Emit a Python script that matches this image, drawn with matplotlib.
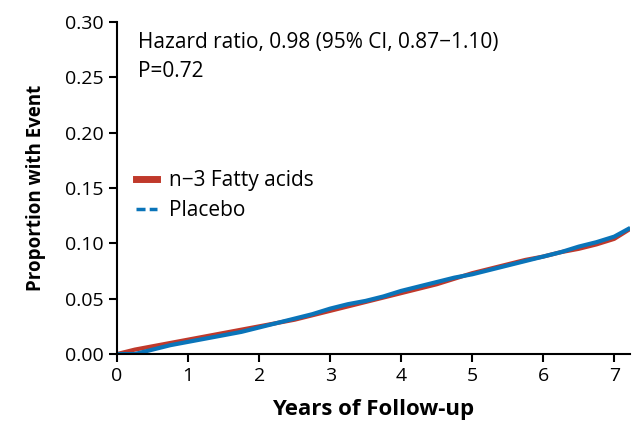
import numpy as np
from matplotlib import pyplot as plt
from matplotlib.lines import Line2D

years = [0, 0.25, 0.5, 0.75, 1, 1.25, 1.5, 1.75, 2, 2.25, 2.5, 2.75, 3, 3.25, 3.5,
         3.75, 4, 4.25, 4.5, 4.75, 5, 5.25, 5.5, 5.75, 6, 6.25, 6.5, 6.75, 7, 7.2]
fatty = [0, 0.004, 0.007, 0.010, 0.013, 0.016, 0.019, 0.022, 0.025, 0.028, 0.031,
         0.035, 0.039, 0.043, 0.047, 0.051, 0.055, 0.059, 0.063, 0.068, 0.073,
         0.077, 0.081, 0.085, 0.088, 0.092, 0.095, 0.099, 0.104, 0.112]
placebo = [0, 0.0, 0.004, 0.008, 0.011, 0.014, 0.017, 0.020, 0.024, 0.028, 0.032,
           0.036, 0.041, 0.045, 0.048, 0.052, 0.057, 0.061, 0.065, 0.069, 0.072,
           0.076, 0.080, 0.084, 0.088, 0.092, 0.097, 0.101, 0.106, 0.113]

RED = '#c0392b'
BLUE = '#0a74b9'

plt.rcParams['font.family'] = ['Open Sans', 'DejaVu Sans']

fig = plt.figure(figsize=(6.33, 4.36), dpi=100)
ax = fig.add_axes([0.185, 0.188, 0.81, 0.762])

ax.plot(years, fatty, color=RED, lw=3.0)
ax.plot(years, placebo, color=BLUE, lw=3.0)

ax.set_xlim(0, 7.22)
ax.set_ylim(0, 0.30)
ax.set_xticks(range(8))
ax.set_yticks(np.arange(0, 0.31, 0.05))
ax.set_yticklabels([f'{v:.2f}' for v in np.arange(0, 0.31, 0.05)])
for s in ['top', 'right']:
    ax.spines[s].set_visible(False)
for s in ['left', 'bottom']:
    ax.spines[s].set_linewidth(1.5)
ax.tick_params(width=1.5, length=6, labelsize=14, colors='black')

ax.set_xlabel('Years of Follow-up', fontsize=16, fontweight='bold', labelpad=10)
ax.set_ylabel('Proportion with Event', fontsize=13.5, fontweight='bold', labelpad=14)

ax.text(0.04, 0.97, 'Hazard ratio, 0.98 (95% CI, 0.87\u22121.10)\nP=0.72',
        transform=ax.transAxes, fontsize=15, va='top', linespacing=1.5)

handles = [Line2D([], [], color=RED, lw=5),
           Line2D([], [], color=BLUE, lw=2.5, ls=(0, (2.6, 1.2)))]
ax.legend(handles, ['n\u22123 Fatty acids', 'Placebo'], loc='upper left',
          bbox_to_anchor=(0.0, 0.61), frameon=False, fontsize=15,
          handlelength=1.0, handletextpad=0.6, labelspacing=0.45)

fig.savefig('out.png', dpi=100)
